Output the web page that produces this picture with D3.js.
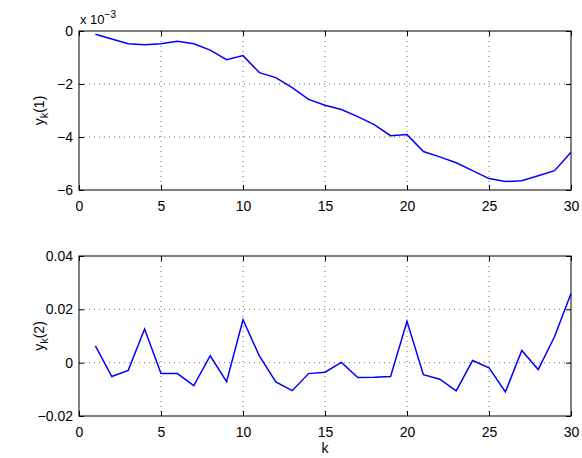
<!DOCTYPE html>
<html><head><meta charset="utf-8">
<script src="https://cdn.jsdelivr.net/npm/d3@7"></script>
<style>body{margin:0;background:#fff}svg{display:block}text{font-family:"Liberation Sans",Arial,sans-serif;fill:#000}</style>
</head><body>
<script>
const k = d3.range(1, 31);
const y1 = [-0.12,-0.30,-0.48,-0.52,-0.48,-0.39,-0.48,-0.72,-1.08,-0.93,-1.57,-1.76,-2.14,-2.58,-2.80,-2.96,-3.23,-3.53,-3.95,-3.91,-4.55,-4.75,-4.97,-5.27,-5.57,-5.68,-5.65,-5.46,-5.27,-4.58];
const y2 = [0.0063,-0.0052,-0.0029,0.0126,-0.0041,-0.0041,-0.0086,0.0026,-0.0071,0.0161,0.0025,-0.0072,-0.0105,-0.0041,-0.0036,0.0001,-0.0056,-0.0055,-0.0052,0.0155,-0.0045,-0.0062,-0.0106,0.0008,-0.0019,-0.011,0.0046,-0.0026,0.0098,0.0259];
const xTicks = [0,5,10,15,20,25,30];
const y1Ticks = [-6,-4,-2,0];
const y2Ticks = [-0.02,0,0.02,0.04];

const W=582,H=458;
const svg=d3.select("body").append("svg").attr("width",W).attr("height",H);

function panel(top,bottom,data,yDom,yTicks,fmt,sub){
  const x=d3.scaleLinear().domain([0,30]).range([79,571]);
  const y=d3.scaleLinear().domain(yDom).range([bottom,top]);
  const g=svg.append("g");
  g.selectAll(".gx").data(xTicks.slice(1,-1)).join("line")
    .attr("x1",d=>x(d)).attr("x2",d=>x(d)).attr("y1",top).attr("y2",bottom)
    .attr("stroke","#444").attr("stroke-width",0.8).attr("stroke-dasharray","1,4");
  g.selectAll(".gy").data(yTicks.slice(1,-1)).join("line")
    .attr("y1",d=>y(d)).attr("y2",d=>y(d)).attr("x1",79).attr("x2",571)
    .attr("stroke","#444").attr("stroke-width",0.8).attr("stroke-dasharray","1,4");
  const ax=g.append("g").attr("transform",`translate(0,${bottom})`)
    .call(d3.axisBottom(x).tickValues(xTicks).tickSize(-5).tickPadding(11).tickFormat(d3.format("d")));
  const axT=g.append("g").attr("transform",`translate(0,${top})`)
    .call(d3.axisTop(x).tickValues(xTicks).tickSize(-5).tickFormat(""));
  const ay=g.append("g").attr("transform",`translate(79,0)`)
    .call(d3.axisLeft(y).tickValues(yTicks).tickSize(-5).tickPadding(6).tickFormat(fmt));
  const ayR=g.append("g").attr("transform",`translate(571,0)`)
    .call(d3.axisRight(y).tickValues(yTicks).tickSize(-5).tickFormat(""));
  [ax,axT,ay,ayR].forEach(a=>{a.selectAll("path").remove();a.selectAll("line").attr("stroke","#000");
    a.selectAll("text").style("font-size","14px");});
  g.append("rect").attr("x",79).attr("y",top).attr("width",492).attr("height",bottom-top)
    .attr("fill","none").attr("stroke","#000").attr("stroke-width",1);
  g.append("path").datum(k.map((kk,i)=>[kk,data[i]]))
    .attr("d",d3.line().x(d=>x(d[0])).y(d=>y(d[1])))
    .attr("fill","none").attr("stroke","#0000ff").attr("stroke-width",1.5);
  const t=g.append("text").attr("transform",`translate(44,${(top+bottom)/2}) rotate(-90)`)
    .attr("text-anchor","middle").style("font-size","14px");
  t.append("tspan").text("y");
  t.append("tspan").attr("dy",4).style("font-size","11px").text("k");
  t.append("tspan").attr("dy",-4).text(sub);
}
const minus=s=>s.replace("-","\u2212");
panel(31,190,y1,[-6,0],y1Ticks,d=>minus(String(d)),"(1)");
panel(256,416,y2,[-0.02,0.04],y2Ticks,d=>minus(d===0?"0":d3.format(".2f")(d)),"(2)");

const ex=svg.append("text").attr("x",80).attr("y",24).style("font-size","13px");
ex.append("tspan").text("x 10");
ex.append("tspan").attr("dy",-6).style("font-size","10px").text("\u22123");

svg.append("text").attr("x",325).attr("y",453).attr("text-anchor","middle").style("font-size","14px").text("k");
</script>
</body></html>
